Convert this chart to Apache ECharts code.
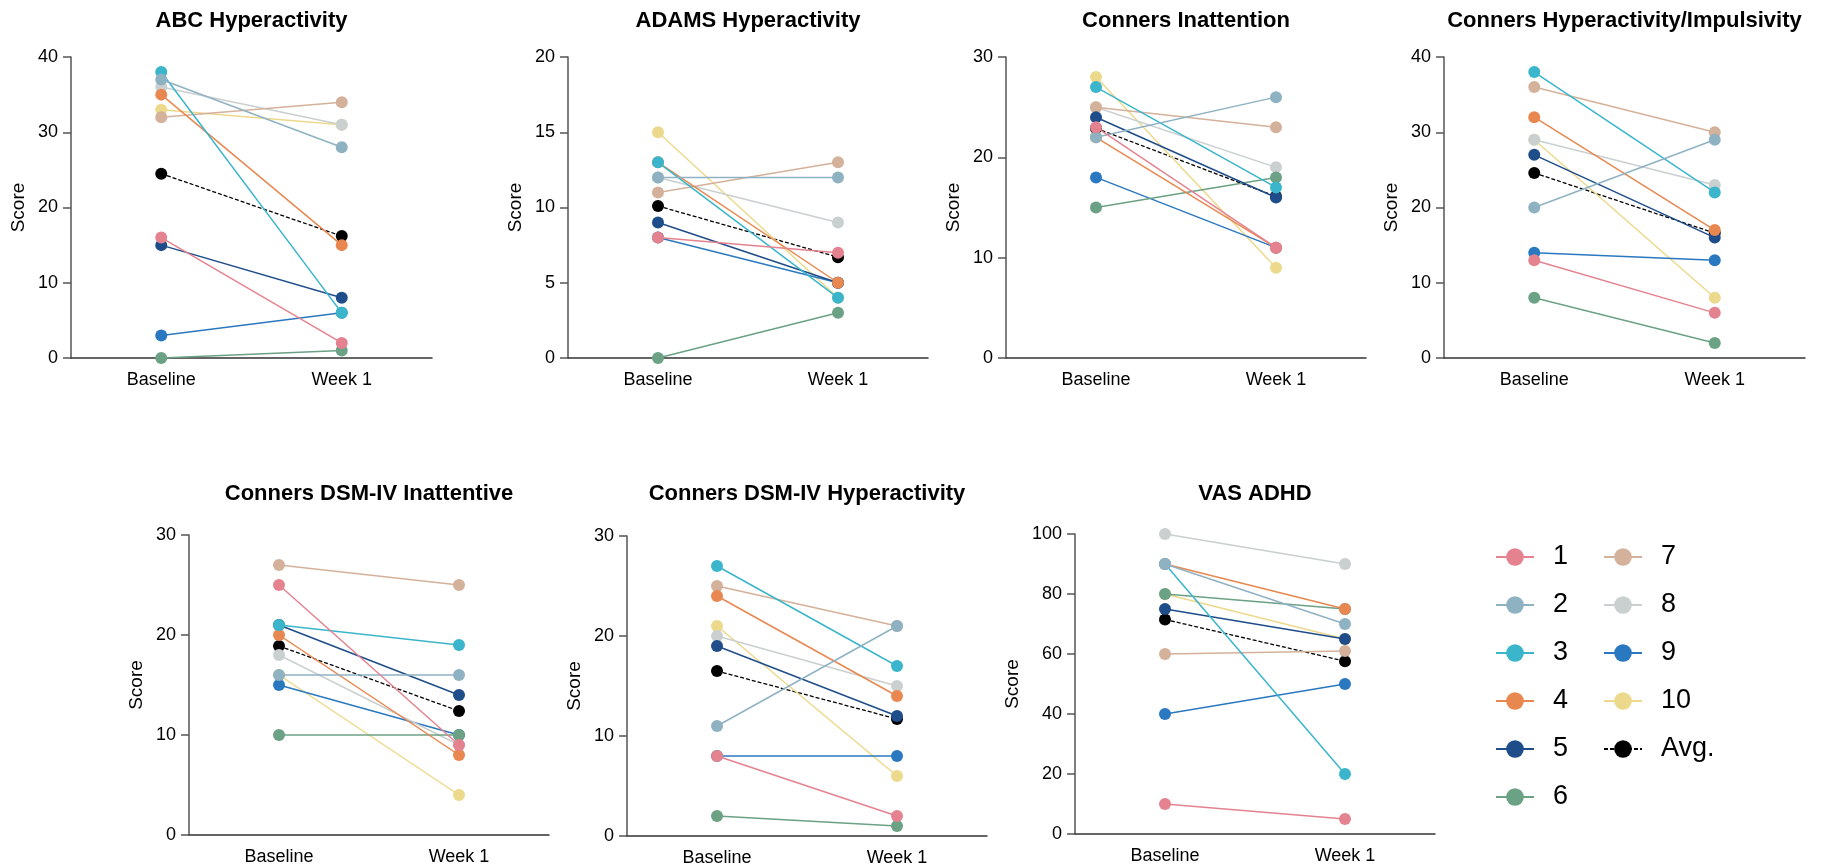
<!DOCTYPE html>
<html>
<head>
<meta charset="utf-8">
<script src="https://cdn.jsdelivr.net/npm/echarts@6/dist/echarts.min.js"></script>
<style>
html,body{margin:0;padding:0;background:#fff;}
#main{width:1826px;height:868px;}
</style>
</head>
<body>
<div id="main"></div>
<script>
const categories = ['Baseline', 'Week 1'];
const subjects = ['1','2','3','4','5','6','7','8','9','10'];
const avgName = 'Avg.';
const colors = ['#E4838F','#8FB2C3','#3AB5CB','#E8874F','#1E4D8A','#6BA184','#D4B19A','#C9D0CF','#2A78BF','#ECD98B'];

const titles = ['ABC Hyperactivity','ADAMS Hyperactivity','Conners Inattention','Conners Hyperactivity/Impulsivity','Conners DSM-IV Inattentive','Conners DSM-IV Hyperactivity','VAS ADHD'];
const yMax = [40, 20, 30, 40, 30, 30, 100];
const yInterval = [10, 5, 10, 10, 10, 10, 20];

// values per subject 1..10
const abcBaseline   = [16, 37, 38, 35, 15, 0, 32, 36, 3, 33];
const abcWeek1      = [2, 28, 6, 15, 8, 1, 34, 31, 6, 31];
const abcAvg        = [24.5, 16.2];

const adamsBaseline = [8, 12, 13, 13, 9, 0, 11, 12, 8, 15];
const adamsWeek1    = [7, 12, 4, 5, 5, 3, 13, 9, 5, 4];
const adamsAvg      = [10.1, 6.7];

const inattBaseline = [23, 22, 27, 22, 24, 15, 25, 25, 18, 28];
const inattWeek1    = [11, 26, 17, 11, 16, 18, 23, 19, 11, 9];
const inattAvg      = [22.9, 16.1];

const hypImpBaseline = [13, 20, 38, 32, 27, 8, 36, 29, 14, 29];
const hypImpWeek1    = [6, 29, 22, 17, 16, 2, 30, 23, 13, 8];
const hypImpAvg      = [24.6, 16.6];

const dsmInBaseline = [25, 16, 21, 20, 21, 10, 27, 18, 15, 16];
const dsmInWeek1    = [9, 16, 19, 8, 14, 10, 25, 9, 10, 4];
const dsmInAvg      = [18.9, 12.4];

const dsmHyBaseline = [8, 11, 27, 24, 19, 2, 25, 20, 8, 21];
const dsmHyWeek1    = [2, 21, 17, 14, 12, 1, 21, 15, 8, 6];
const dsmHyAvg      = [16.5, 11.7];

const vasBaseline   = [10, 90, 90, 90, 75, 80, 60, 100, 40, 80];
const vasWeek1      = [5, 70, 20, 75, 65, 75, 61, 90, 50, 65];
const vasAvg        = [71.5, 57.6];

const panels = [
  [abcBaseline, abcWeek1, abcAvg],
  [adamsBaseline, adamsWeek1, adamsAvg],
  [inattBaseline, inattWeek1, inattAvg],
  [hypImpBaseline, hypImpWeek1, hypImpAvg],
  [dsmInBaseline, dsmInWeek1, dsmInAvg],
  [dsmHyBaseline, dsmHyWeek1, dsmHyAvg],
  [vasBaseline, vasWeek1, vasAvg]
];

// layout
const grids = [
  {left: 71,   top: 57,  width: 361, height: 301},
  {left: 568,  top: 57,  width: 360, height: 301},
  {left: 1006, top: 57,  width: 360, height: 301},
  {left: 1444, top: 57,  width: 361, height: 301},
  {left: 189,  top: 535, width: 360, height: 300},
  {left: 627,  top: 536, width: 360, height: 300},
  {left: 1075, top: 534, width: 360, height: 300}
];
const titleTops = [10, 10, 10, 10, 483, 483, 483];
const FONT = '"Liberation Sans", Arial, sans-serif';

const option = {
  animation: false,
  textStyle: {fontFamily: FONT},
  title: [], grid: [], xAxis: [], yAxis: [], series: [],
  legend: [
    {
      data: subjects.slice(0, 6), orient: 'vertical', left: 1495, top: 543,
      itemWidth: 38, itemHeight: 22, itemGap: 20, padding: 0,
      selectedMode: false,
      textStyle: {fontSize: 27, lineHeight: 28, color: '#000', fontFamily: FONT, padding: [0, 0, 0, 14]}
    },
    {
      data: subjects.slice(6).concat([avgName]), orient: 'vertical', left: 1603, top: 543,
      itemWidth: 38, itemHeight: 22, itemGap: 20, padding: 0,
      selectedMode: false,
      textStyle: {fontSize: 27, lineHeight: 28, color: '#000', fontFamily: FONT, padding: [0, 0, 0, 14]}
    }
  ]
};

grids.forEach((g, p) => {
  option.grid.push(Object.assign({containLabel: false}, g));
  option.title.push({
    text: titles[p], left: g.left + g.width / 2, top: titleTops[p], textAlign: 'center', padding: 0,
    textStyle: {fontSize: 22, fontWeight: 'bold', color: '#000', fontFamily: FONT}
  });
  option.xAxis.push({
    type: 'category', gridIndex: p, data: categories, boundaryGap: true,
    axisLine: {lineStyle: {color: '#333', width: 1.5}},
    axisTick: {alignWithLabel: true, length: 8, lineStyle: {color: '#555', width: 1.5}},
    axisLabel: {fontSize: 18, color: '#000', margin: 13, fontFamily: FONT},
    splitLine: {show: false}
  });
  option.yAxis.push({
    type: 'value', gridIndex: p, min: 0, max: yMax[p], interval: yInterval[p],
    name: 'Score', nameLocation: 'middle', nameGap: yMax[p] >= 100 ? 53 : 43,
    nameTextStyle: {fontSize: 19, color: '#000', fontFamily: FONT},
    axisLine: {show: true, lineStyle: {color: '#555', width: 1.5}},
    axisTick: {show: true, length: 8, lineStyle: {color: '#555', width: 1.5}},
    axisLabel: {fontSize: 18, color: '#000', margin: 13, fontFamily: FONT},
    splitLine: {show: false}
  });
  const [base, wk, avg] = panels[p];
  option.series.push({
    name: avgName, type: 'line', xAxisIndex: p, yAxisIndex: p, z: 3,
    data: avg, symbol: 'circle', symbolSize: 12,
    itemStyle: {color: '#000'},
    lineStyle: {color: '#000', width: 1.3, type: [4, 2]},
    emphasis: {disabled: true}
  });
  subjects.forEach((s, i) => {
    option.series.push({
      name: s, type: 'line', xAxisIndex: p, yAxisIndex: p, z: 20 - i,
      data: [base[i], wk[i]], symbol: 'circle', symbolSize: 12,
      itemStyle: {color: colors[i]},
      lineStyle: {color: colors[i], width: 1.5},
      emphasis: {disabled: true}
    });
  });
});

const chart = echarts.init(document.getElementById('main'), null, {renderer: 'canvas'});
chart.setOption(option);
</script>
</body>
</html>
